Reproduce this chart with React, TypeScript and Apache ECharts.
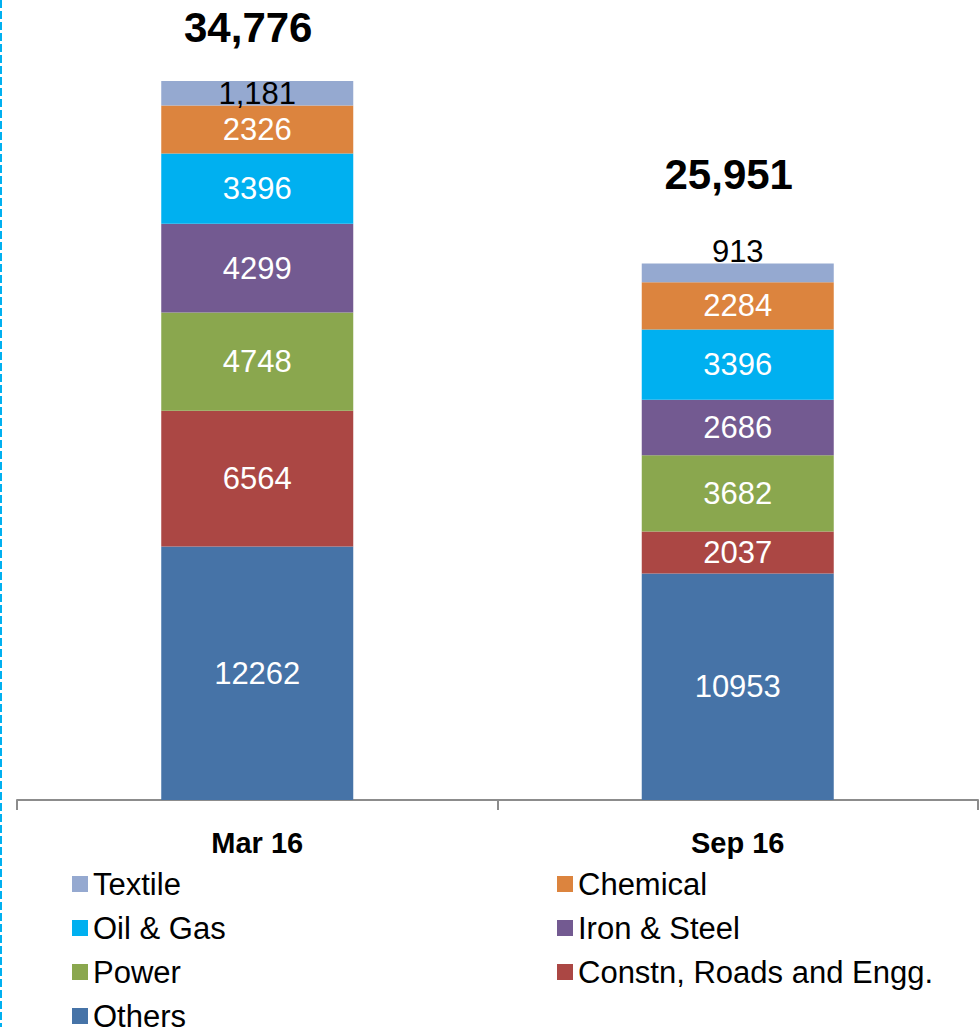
import React, { useEffect, useRef } from "react";
import * as echarts from "echarts";

const categories = ["Mar 16", "Sep 16"];
const others = [12262, 10953];
const constn = [6564, 2037];
const power = [4748, 3682];
const ironSteel = [4299, 2686];
const oilGas = [3396, 3396];
const chemical = [2326, 2284];
const textile = [1181, 913];
const totals = [34776, 25951];

const FONT = "'Liberation Sans', Arial, sans-serif";

export default function App() {
  const ref = useRef<HTMLDivElement>(null);
  useEffect(() => {
    if (!ref.current) return;
    const chart = echarts.init(ref.current, undefined, { renderer: "svg" });
    const segLabel = (color: string) => ({
      show: true,
      position: "inside" as const,
      color,
      fontSize: 31,
      fontFamily: FONT,
    });
    const mk = (name: string, data: number[], color: string) => ({
      name,
      type: "bar" as const,
      stack: "total",
      barWidth: 192,
      data,
      itemStyle: { color },
      label: segLabel("#ffffff"),
    });
    const series: any[] = [
      mk("Others", others, "#4673a7"),
      mk("Constn, Roads and Engg.", constn, "#ab4744"),
      mk("Power", power, "#8aa74e"),
      mk("Iron & Steel", ironSteel, "#735a91"),
      mk("Oil & Gas", oilGas, "#00b0f0"),
      mk("Chemical", chemical, "#dc843e"),
      {
        name: "Textile",
        type: "bar",
        stack: "total",
        barWidth: 192,
        itemStyle: { color: "#95a9d0" },
        data: textile.map((v, i) =>
          i === 0
            ? { value: v }
            : { value: v, label: { position: "top", distance: 0, offset: [0, 4] } }
        ),
        label: {
          ...segLabel("#000000"),
          formatter: (p: any) => Number(p.value).toLocaleString("en-US"),
        },
      },
      {
        name: "Total",
        type: "scatter",
        symbolSize: 1,
        clip: false,
        itemStyle: { color: "rgba(0,0,0,0)" },
        silent: true,
        z: 10,
        data: totals.map((v, i) => ({
          value: v,
          label: { distance: i === 0 ? 32 : 67 },
        })),
        label: {
          show: true,
          position: "top",
          offset: [-9, 0],
          color: "#000000",
          opacity: 1,
          fontSize: 42,
          fontWeight: "bold",
          fontFamily: FONT,
          formatter: (p: any) => Number(p.value).toLocaleString("en-US"),
        },
      },
    ];
    const legendText = {
      fontSize: 31,
      lineHeight: 34,
      color: "#000000",
      fontFamily: FONT,
    };
    chart.setOption({
      animation: false,
      backgroundColor: "#ffffff",
      grid: { left: 17, right: 2, top: 76.4, bottom: 227 },
      xAxis: {
        type: "category",
        data: categories,
        axisLine: { lineStyle: { color: "#8c8c8c", width: 2 } },
        axisTick: { show: true, length: 10, lineStyle: { color: "#8c8c8c", width: 2 } },
        axisLabel: {
          margin: 28,
          fontSize: 29,
          fontWeight: "bold",
          color: "#000000",
          fontFamily: FONT,
        },
      },
      yAxis: {
        type: "value",
        min: 0,
        max: 35000,
        show: false,
        splitLine: { show: false },
      },
      legend: [
        {
          orient: "vertical",
          left: 67,
          top: 862,
          height: 300,
          itemWidth: 16,
          itemHeight: 16,
          itemGap: 10,
          icon: "rect",
          textStyle: legendText,
          data: ["Textile", "Oil & Gas", "Power", "Others"],
        },
        {
          orient: "vertical",
          left: 552,
          top: 862,
          height: 300,
          itemWidth: 16,
          itemHeight: 16,
          itemGap: 10,
          icon: "rect",
          textStyle: legendText,
          data: ["Chemical", "Iron & Steel", "Constn, Roads and Engg."],
        },
      ],
      graphic: [
        {
          type: "line",
          shape: { x1: 1, y1: 0, x2: 1, y2: 1027 },
          style: { stroke: "#00b0f0", lineWidth: 2, lineDash: [8, 3] },
          silent: true,
        },
      ],
      series,
    });
    return () => chart.dispose();
  }, []);
  return (
    <div
      ref={ref}
      style={{ position: "absolute", left: 0, top: 0, width: 980, height: 1027 }}
    />
  );
}
